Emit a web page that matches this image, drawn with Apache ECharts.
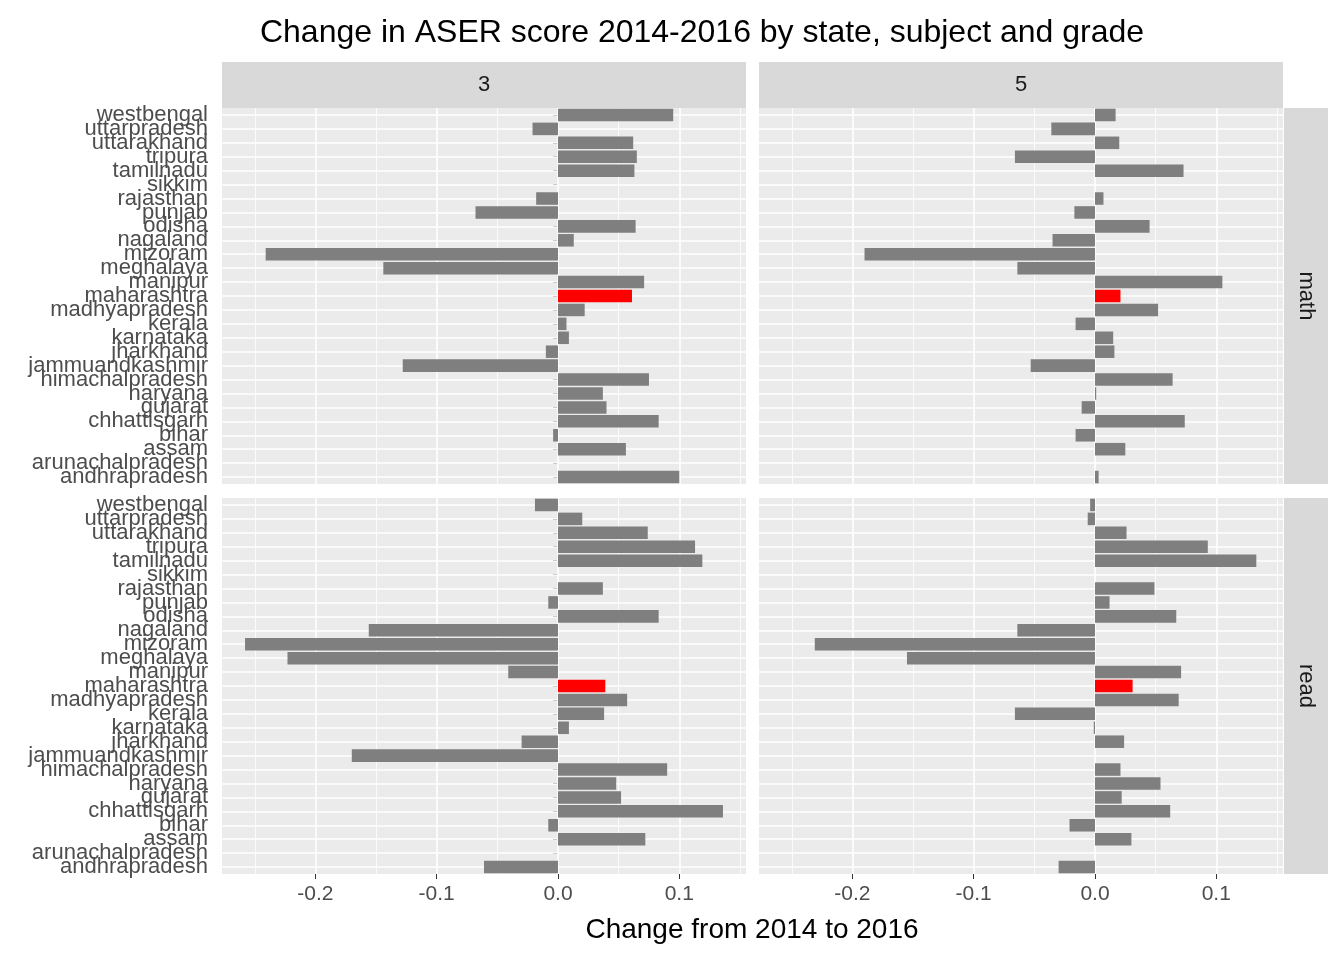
<!DOCTYPE html>
<html><head><meta charset="utf-8">
<script src="https://cdn.jsdelivr.net/npm/echarts@6/dist/echarts.min.js"></script>
<style>html,body{margin:0;background:#fff}#c{width:1344px;height:960px}</style>
</head><body><div id="c"></div>
<script>
const states = ['andhrapradesh','arunachalpradesh','assam','bihar','chhattisgarh','gujarat','haryana',
  'himachalpradesh','jammuandkashmir','jharkhand','karnataka','kerala','madhyapradesh','maharashtra',
  'manipur','meghalaya','mizoram','nagaland','odisha','punjab','rajasthan','sikkim','tamilnadu',
  'tripura','uttarakhand','uttarpradesh','westbengal'];
const math3 = [0.100,0,0.056,-0.004,0.083,0.040,0.037,0.075,-0.128,-0.010,0.009,0.007,0.022,0.061,
  0.071,-0.144,-0.241,0.013,0.064,-0.068,-0.018,0,0.063,0.065,0.062,-0.021,0.095];
const math5 = [0.003,0,0.025,-0.016,0.074,-0.011,0.001,0.064,-0.053,0.016,0.015,-0.016,0.052,0.021,
  0.105,-0.064,-0.190,-0.035,0.045,-0.017,0.007,0,0.073,-0.066,0.020,-0.036,0.017];
const read3 = [-0.061,0,0.072,-0.008,0.136,0.052,0.048,0.090,-0.170,-0.030,0.009,0.038,0.057,0.039,
  -0.041,-0.223,-0.258,-0.156,0.083,-0.008,0.037,0,0.119,0.113,0.074,0.020,-0.019];
const read5 = [-0.030,0,0.030,-0.021,0.062,0.022,0.054,0.021,0,0.024,-0.001,-0.066,0.069,0.031,
  0.071,-0.155,-0.231,-0.064,0.067,0.012,0.049,0,0.133,0.093,0.026,-0.006,-0.004];
const xTicks = [-0.2,-0.1,0,0.1];
const minorTicks = [-0.25,-0.15,-0.05,0.05,0.15];
const highlight = 'maharashtra';

const chart = echarts.init(document.getElementById('c'));
const font = 'Liberation Sans, Arial, sans-serif';
const panels = [
  {left:222, top:108, data:math3, ylab:true, xlab:false},
  {left:759, top:108, data:math5, ylab:false, xlab:false},
  {left:222, top:498, data:read3, ylab:true, xlab:true},
  {left:759, top:498, data:read5, ylab:false, xlab:true}
];
const grids = [], xAxes = [], yAxes = [], series = [];
panels.forEach((p, i) => {
  grids.push({left:p.left, top:p.top, width:524, height:376, show:true,
    backgroundColor:'#ebebeb', borderWidth:0});
  xAxes.push({type:'value', gridIndex:i, min:-0.277, max:0.155,
    splitLine:{show:false}, axisLine:{show:false},
    axisTick:{show:p.xlab, customValues:xTicks, length:5, lineStyle:{color:'#333'}},
    axisLabel:{show:p.xlab, customValues:xTicks, fontSize:21, color:'#4d4d4d', fontFamily:font,
      margin:10, formatter: v => v.toFixed(1)}});
  yAxes.push({type:'category', gridIndex:i, data:states,
    axisLine:{show:false}, splitLine:{show:false},
    axisTick:{show:p.ylab, alignWithLabel:true, length:5, lineStyle:{color:'#333'}},
    axisLabel:{show:p.ylab, interval:0, fontSize:22, color:'#4d4d4d', fontFamily:font, margin:14}});
  const lines = [];
  minorTicks.forEach(v => lines.push({xAxis:v, lineStyle:{color:'#fff', width:0.8, type:'solid'}}));
  xTicks.forEach(v => lines.push({xAxis:v, lineStyle:{color:'#fff', width:1.6, type:'solid'}}));
  states.forEach(s => lines.push({yAxis:s, lineStyle:{color:'#fff', width:1.6, type:'solid'}}));
  series.push({type:'bar', xAxisIndex:i, yAxisIndex:i, barCategoryGap:'10%', silent:true,
    data: p.data.map((v, k) => ({value:v, itemStyle:{color: states[k] === highlight ? '#ff0000' : '#7f7f7f'}})),
    markLine:{silent:true, symbol:'none', label:{show:false}, animation:false, z:1, data:lines},
    z:3});
});

const strip = (x, y, w, h, text, rot) => [
  {type:'rect', shape:{x, y, width:w, height:h}, style:{fill:'#d9d9d9'}},
  {type:'text', x:x + w/2, y:y + h/2, rotation:rot || 0,
    style:{text, fontSize:22, fill:'#1a1a1a', fontFamily:font, align:'center', verticalAlign:'middle'}}
];
chart.setOption({
  animation:false,
  title:{text:'Change in ASER score 2014-2016 by state, subject and grade', left:697, top:12,
    textAlign:'center', textStyle:{fontSize:32, fontWeight:'normal', color:'#000', fontFamily:font}},
  grid:grids, xAxis:xAxes, yAxis:yAxes, series,
  graphic:[
    ...strip(222, 62, 524, 46, '3'),
    ...strip(759, 62, 524, 46, '5'),
    ...strip(1284, 108, 44, 376, 'math', -Math.PI/2),
    ...strip(1284, 498, 44, 376, 'read', -Math.PI/2),
    {type:'text', x:752, y:930, style:{text:'Change from 2014 to 2016', fontSize:28, fill:'#000',
      fontFamily:font, align:'center', verticalAlign:'middle'}}
  ]
});
</script></body></html>
